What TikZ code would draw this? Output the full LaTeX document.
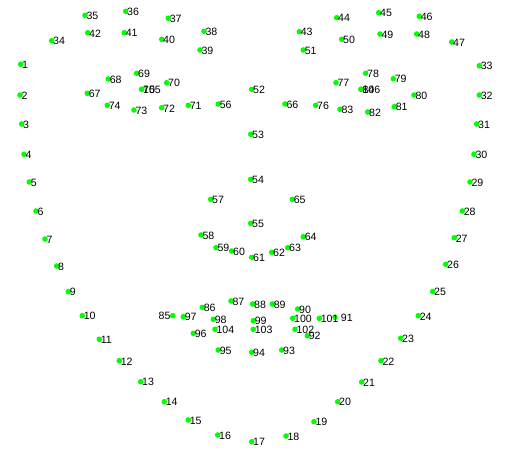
\documentclass[tikz,border=0pt]{standalone}
\usepackage{fontspec}
\setmainfont{Liberation Sans}
\definecolor{ptgreen}{RGB}{0,255,0}
\tikzset{
  dot/.style={circle,fill=ptgreen,draw=none,minimum size=5.6pt,inner sep=0pt},
  lbl/.style={anchor=west,inner sep=0pt,font=\fontsize{10.6}{10.6}\selectfont,text=black},
  lblL/.style={anchor=east,inner sep=0pt,font=\fontsize{10.6}{10.6}\selectfont,text=black}
}
\begin{document}
\begin{tikzpicture}[x=1pt,y=-1pt]
\useasboundingbox (0,0) rectangle (508,460);
\foreach \n/\x/\y in {
1/20.7/64.3, 2/20/95, 3/21.7/124, 4/24/154.3, 5/29.3/182, 6/36/211, 7/45/239,
8/56.7/266, 9/68.3/291.7, 10/82.3/315.7, 11/99.3/339.3, 12/119.3/360.7,
13/140.7/381.7, 14/164.3/401.7, 15/188.3/420, 16/217.7/435, 17/251.7/441.7,
18/286/436, 19/314/421.7, 20/337.7/401.7, 21/361.7/382, 22/381/360.7,
23/400.7/338.3, 24/418.3/315.7, 25/432.7/291.5, 26/445.7/264.3, 27/454.3/237.7,
28/462.3/211, 29/470/182, 30/474/154.3, 31/476.7/124, 32/479.3/95, 33/479.3/65.7,
34/51.7/40.7, 35/85/15.3, 36/125.7/11.3, 37/168.3/18.3, 38/204/31.3, 39/200/50,
40/161.7/39.3, 41/124.3/32.7, 42/87.7/32.7, 43/299.3/31.7, 44/336.7/17.7,
45/378.7/12.7, 46/419.3/16.3, 47/451.7/42, 48/416.7/34, 49/380/34, 50/341.7/39.3,
51/303.3/50, 52/251.7/89.3, 53/250.7/134.3, 54/250.7/179.3, 55/250.7/223.3,
56/218.3/104, 57/210.7/199.3, 58/201/235, 59/216/247.7, 60/231.7/251,
61/251.7/257.3, 62/271.7/252.3, 63/287.7/247.7, 64/303.3/236.7, 65/292.3/199.3,
66/285/104, 67/87.3/93.3, 68/108.3/79, 69/136.7/73.3, 70/166.7/82.7,
71/188.3/105.3, 72/161.7/107.7, 73/134/110, 74/107.3/105.3, 75/141.7/89.3,
76/315.7/105.3, 77/336/82.7, 78/365.7/73.3, 79/393.3/78.7, 80/414/95,
81/394.3/106.7, 82/367.7/112, 83/340/109.3, 84/361/89.3, 85/172.7/315.7,
86/202.3/307.3, 87/231/301, 88/252.7/304, 89/272.3/304, 90/297.7/309,
91/335/317.3, 92/307.3/335.7, 93/281.7/350, 94/251.7/352.3, 95/218.3/350,
96/193.3/333.3, 97/183.3/316.7, 98/213.3/319.3, 99/253.3/320.7, 100/292.7/318.3,
101/319.3/318.3, 102/295/329.3, 103/253.3/329.3, 104/215/329.3, 105/141.7/89.3,
106/361/89.3}
{ \node[dot] (d\n) at (\x,\y) {}; }
\foreach \n/\x/\y in {
1/20.7/64.3, 2/20/95, 3/21.7/124, 4/24/154.3, 5/29.3/182, 6/36/211, 7/45/239,
8/56.7/266, 9/68.3/291.7, 10/82.3/315.7, 11/99.3/339.3, 12/119.3/360.7,
13/140.7/381.7, 14/164.3/401.7, 15/188.3/420, 16/217.7/435, 17/251.7/441.7,
18/286/436, 19/314/421.7, 20/337.7/401.7, 21/361.7/382, 22/381/360.7,
23/400.7/338.3, 24/418.3/315.7, 25/432.7/291.5, 26/445.7/264.3, 27/454.3/237.7,
28/462.3/211, 29/470/182, 30/474/154.3, 31/476.7/124, 32/479.3/95, 33/479.3/65.7,
34/51.7/40.7, 35/85/15.3, 36/125.7/11.3, 37/168.3/18.3, 38/204/31.3, 39/200/50,
40/161.7/39.3, 41/124.3/32.7, 42/87.7/32.7, 43/299.3/31.7, 44/336.7/17.7,
45/378.7/12.7, 46/419.3/16.3, 47/451.7/42, 48/416.7/34, 49/380/34, 50/341.7/39.3,
51/303.3/50, 52/251.7/89.3, 53/250.7/134.3, 54/250.7/179.3, 55/250.7/223.3,
56/218.3/104, 57/210.7/199.3, 58/201/235, 59/216/247.7, 60/231.7/251,
61/251.7/257.3, 62/271.7/252.3, 63/287.7/247.7, 64/303.3/236.7, 65/292.3/199.3,
66/285/104, 67/87.3/93.3, 68/108.3/79, 69/136.7/73.3, 70/166.7/82.7,
71/188.3/105.3, 72/161.7/107.7, 73/134/110, 74/107.3/105.3, 75/141.7/89.3,
76/315.7/105.3, 77/336/82.7, 78/365.7/73.3, 79/393.3/78.7, 80/414/95,
81/394.3/106.7, 82/367.7/112, 83/340/109.3, 84/361/89.3,
86/202.3/307.3, 87/231/301, 88/252.7/304, 89/272.3/304, 90/297.7/309,
92/307.3/335.7, 93/281.7/350, 94/251.7/352.3, 95/218.3/350,
96/193.3/333.3, 97/183.3/316.7, 98/213.3/319.3, 99/253.3/320.7, 100/292.7/318.3,
101/319.3/318.3, 102/295/329.3, 103/253.3/329.3, 104/215/329.3, 105/141.7/89.3,
106/361/89.3}
{ \node[lbl] (l\n) at ([xshift=1.3pt,yshift=-0.6pt]d\n.center) {\n}; }
\node[lblL] (l85) at ([xshift=-2pt,yshift=-0.6pt]d85.center) {85};
\node[lbl] (l91) at ([xshift=5.7pt,yshift=-0.6pt]d91.center) {91};
\end{tikzpicture}
\end{document}
